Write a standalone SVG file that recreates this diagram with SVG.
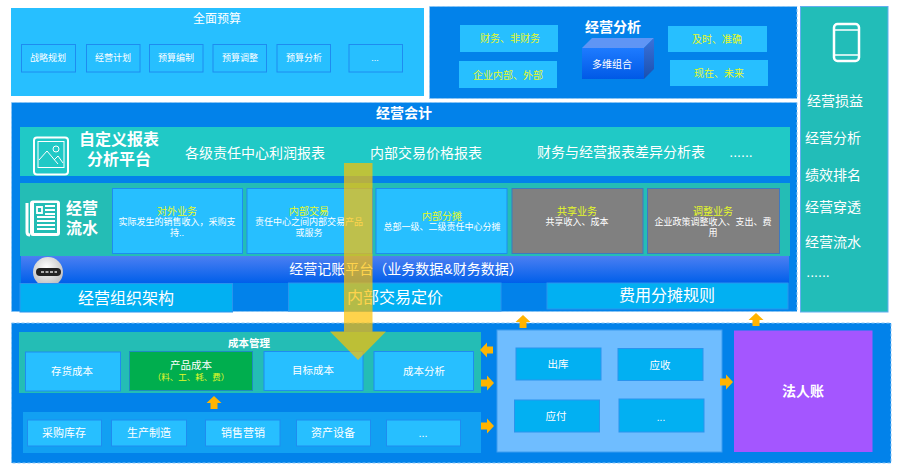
<svg xmlns="http://www.w3.org/2000/svg" width="900" height="467" viewBox="0 0 900 467">
<defs>
<linearGradient id="bar" x1="0" y1="0" x2="0" y2="1"><stop offset="0" stop-color="#4C7FF2"/><stop offset="1" stop-color="#005FEA"/></linearGradient>
<linearGradient id="front" x1="0" y1="0" x2="0" y2="1"><stop offset="0" stop-color="#1E7BFF"/><stop offset="1" stop-color="#0059E6"/></linearGradient>
<linearGradient id="sideF" x1="0" y1="0" x2="0" y2="1"><stop offset="0" stop-color="#3A72DA"/><stop offset="1" stop-color="#1A50B0"/></linearGradient>
<radialGradient id="ball" cx=".45" cy=".35" r=".7"><stop offset="0" stop-color="#FFFFFF"/><stop offset="1" stop-color="#B8B8B8"/></radialGradient>
<path id="ar" d="M-6 -3.500H0V-7.500L7 0L0 7.500V3.500H-6Z" fill="#FFB400"/>
</defs>
<style>
text{font-family:"Liberation Sans","Noto Sans CJK SC",sans-serif;text-anchor:middle;fill:#fff}
.panel{fill:#0282EA;stroke:#8CC6F5;stroke-width:1;stroke-dasharray:3 2}
.sky{fill:#27BFFF;stroke:#1E8CF0;stroke-width:1}
.cy{fill:#02B0F2;stroke:#2A94EE;stroke-width:1}
.gray{fill:#808080;stroke:#3F78C0;stroke-width:1}
.y{fill:#E6FA28}
.s10{font-size:10px}.s105{font-size:10.500px}.s9{font-size:9px}.s11{font-size:11px}.s14{font-size:14px}.s16{font-size:16px}
.b{font-weight:700}
.ic{fill:none;stroke:#fff;stroke-width:2}
</style>

<g id="budget">
<rect x="11" y="8" width="413" height="88" fill="#27BFFF"/>
<text x="217" y="23" font-size="12">全面预算</text>
<rect class="sky" x="21.500" y="44.500" width="54" height="27.500"/><text class="s9" x="48" y="61">战略规划</text>
<rect class="sky" x="86.500" y="44.500" width="53.500" height="27.500"/><text class="s9" x="113" y="61">经营计划</text>
<rect class="sky" x="149.500" y="44.500" width="53.500" height="27.500"/><text class="s9" x="176" y="61">预算编制</text>
<rect class="sky" x="213" y="44.500" width="53.500" height="27.500"/><text class="s9" x="240" y="61">预算调整</text>
<rect class="sky" x="277" y="44.500" width="53.500" height="27.500"/><text class="s9" x="304" y="61">预算分析</text>
<rect class="sky" x="349" y="44.500" width="53.500" height="27.500"/><text class="s9" x="375" y="61">...</text>
</g>

<g id="analysis">
<rect class="panel" x="429.500" y="6.500" width="367.500" height="92"/>
<rect x="460" y="25" width="98" height="27" fill="#27BFFF"/><text class="s10 y" x="510" y="42">财务、非财务</text>
<rect x="459" y="61" width="98" height="27" fill="#27BFFF"/><text class="s10 y" x="508" y="79">企业内部、外部</text>
<rect x="668" y="26" width="99" height="26" fill="#27BFFF"/><text class="s10 y" x="717" y="43">及时、准确</text>
<rect x="670" y="60" width="98" height="26" fill="#27BFFF"/><text class="s10 y" x="719" y="77">现在、未来</text>
<text class="s14 b" x="613" y="32">经营分析</text>
<path d="M582 48L592 38H654L644 48Z" fill="#5F95F5"/>
<path d="M644 48L654 38V69L644 79Z" fill="url(#sideF)"/>
<rect x="582" y="48" width="62" height="31" fill="url(#front)"/>
<text class="s10" x="612" y="68">多维组合</text>
</g>

<g id="side">
<rect x="800.500" y="6.500" width="87.500" height="305.500" fill="#22BDB8" stroke="#62AEF0"/>
<rect x="834" y="24" width="25" height="37" rx="3.500" fill="none" stroke="#fff" stroke-width="2.500"/>
<path d="M835 30H858M835 55H858" stroke="#fff" stroke-width="1.500"/>
<text class="s14" x="835" y="106">经营损益</text>
<text class="s14" x="833" y="143">经营分析</text>
<text class="s14" x="833" y="180">绩效排名</text>
<text class="s14" x="833" y="212">经营穿透</text>
<text class="s14" x="833" y="247">经营流水</text>
<text class="s14" x="818" y="277">......</text>
</g>

<g id="accounting">
<rect class="panel" x="11.500" y="102.500" width="785.500" height="209"/>
<text class="s14 b" x="404" y="118">经营会计</text>
<rect x="20" y="127" width="770" height="49" fill="#20C9C6"/>
<rect x="34" y="137.500" width="34" height="37" rx="3" class="ic"/>
<rect x="38" y="141.500" width="26" height="26" fill="none" stroke="#fff"/>
<circle cx="56" cy="149" r="3" fill="none" stroke="#fff"/>
<path d="M39 160L47 151L58 164M54 160L58 156L63 163" fill="none" stroke="#fff"/>
<text class="s16 b" x="119" y="145">自定义报表</text>
<text class="s16 b" x="119" y="165">分析平台</text>
<text class="s14" x="255" y="158">各级责任中心利润报表</text>
<text class="s14" x="426" y="158">内部交易价格报表</text>
<text class="s14" x="621" y="157">财务与经营报表差异分析表</text>
<text class="s14" x="741" y="157">......</text>
</g>

<g id="flow">
<rect x="20" y="183" width="770" height="73" fill="#24BDB5"/>
<rect x="30" y="200.500" width="30" height="35.500" rx="3" fill="#fff"/>
<rect x="34" y="203" width="23" height="30" fill="#24BDB5"/>
<path d="M27 203V232Q27 235 30 235" fill="none" stroke="#fff" stroke-width="3"/>
<path d="M37 207H42V213H37ZM37 217H55M37 221H55M37 225H55M37 229H55M45 206H55M45 210H55M45 214H55" fill="none" stroke="#fff" stroke-width="1.800"/>
<text class="s16 b" x="82" y="214">经营</text>
<text class="s16 b" x="82" y="234">流水</text>
<rect class="sky" x="112.500" y="188.500" width="130" height="65"/>
<text class="s10 y" x="177" y="215">对外业务</text>
<text class="s9" x="177" y="225">实际发生的销售收入，采购支</text><text class="s9" x="177" y="236">持..</text>
<rect class="sky" x="247" y="188.500" width="125.500" height="65"/>
<text class="s10 y" x="309" y="215">内部交易</text>
<text class="s9" x="309" y="225">责任中心之间内部交易产品</text><text class="s9" x="309" y="236">或服务</text>
<rect class="sky" x="376" y="188.500" width="131" height="65"/>
<text class="s10 y" x="442" y="220">内部分摊</text>
<text class="s9" x="442" y="230">总部一级、二级责任中心分摊</text>
<rect class="gray" x="512" y="188.500" width="131" height="65"/>
<text class="s10 y" x="577" y="215">共享业务</text>
<text class="s9" x="577" y="225">共享收入、成本</text>
<rect class="gray" x="647.500" y="188.500" width="132" height="65"/>
<text class="s10 y" x="713" y="215">调整业务</text>
<text class="s9" x="713" y="225">企业政策调整收入、支出、费</text><text class="s9" x="713" y="236">用</text>
</g>

<g id="platform">
<rect x="21" y="256" width="768" height="27" fill="url(#bar)"/>
<circle cx="48" cy="272" r="15" fill="url(#ball)"/>
<rect x="36" y="268" width="25" height="8" rx="4" fill="#222"/>
<path d="M41 272H44M45.500 272H48.500M50 272H53M54.500 272H57" stroke="#ddd" stroke-width="1.500"/>
<text class="s14" x="406" y="274">经营记账平台（业务数据&amp;财务数据）</text>
</g>

<g id="rules">
<rect class="cy" x="20" y="283.500" width="212.500" height="28.500"/><text class="s16" x="126" y="304">经营组织架构</text>
<rect class="cy" x="288.500" y="283" width="212.500" height="28"/><text class="s16" x="395" y="303">内部交易定价</text>
<rect class="cy" x="547" y="283" width="241" height="26"/><text class="s16" x="667" y="301">费用分摊规则</text>
</g>

<g id="cost">
<rect class="panel" x="11.500" y="323" width="879.500" height="140"/>
<rect x="19" y="332" width="462" height="61" fill="#24BDB5"/>
<text class="b s105" x="249" y="347">成本管理</text>
<rect class="sky" x="25.500" y="352" width="95" height="39"/><text class="s105" x="72" y="375">存货成本</text>
<rect x="129.500" y="351.500" width="123" height="39" fill="#00AE4E" stroke="#1E8CC0"/>
<text class="s105" x="191" y="369">产品成本</text><text class="y" font-size="8.500" x="191" y="380">（料、工、耗、费）</text>
<rect class="sky" x="264" y="351.500" width="99" height="39"/><text class="s105" x="313" y="374">目标成本</text>
<rect class="sky" x="374" y="351.500" width="99.500" height="39"/><text class="s105" x="424" y="375">成本分析</text>
</g>

<g id="ops">
<rect x="23" y="412" width="458" height="41" fill="#12A0F2"/>
<rect class="sky" x="27.500" y="420" width="74" height="26"/><text class="s11" x="64" y="437">采购库存</text>
<rect class="sky" x="111.500" y="420" width="75" height="26"/><text class="s11" x="149" y="437">生产制造</text>
<rect class="sky" x="205.500" y="420" width="74.500" height="26"/><text class="s11" x="243" y="437">销售营销</text>
<rect class="sky" x="296.500" y="420" width="74" height="26"/><text class="s11" x="333" y="437">资产设备</text>
<rect class="sky" x="386.500" y="420" width="74" height="26"/><text class="s11" x="423" y="437">...</text>
</g>

<g id="ledger">
<rect x="497" y="330" width="225" height="122" fill="#6FBDFF" stroke="#3D9CF0"/>
<rect class="cy" x="516" y="348" width="85" height="32"/><text class="s105" x="558" y="368">出库</text>
<rect class="cy" x="618" y="348.500" width="85" height="32"/><text class="s105" x="660" y="369">应收</text>
<rect class="cy" x="514.500" y="400" width="85" height="32"/><text class="s105" x="556" y="420">应付</text>
<rect class="cy" x="619" y="399" width="85" height="33"/><text class="s10" x="661" y="421">...</text>
</g>

<g id="legal">
<rect x="734" y="330.500" width="138.500" height="121.500" fill="#A456FF"/>
<text class="b s14" x="803" y="396">法人账</text>
</g>

<g id="connectors">
<use href="#ar" transform="translate(487 350) scale(-1 1)"/>
<use href="#ar" transform="translate(487 383)"/>
<use href="#ar" transform="translate(487 426)"/>
<use href="#ar" transform="translate(726 382)"/>
<use href="#ar" transform="translate(523 322) rotate(-90)"/>
<use href="#ar" transform="translate(756 320) rotate(-90)"/>
<use href="#ar" transform="translate(214 403) rotate(-90)"/>
<path d="M344 163H372.500V331.500H386L358 360L330 331.500H344Z" fill="#FFC000" fill-opacity=".7"/>
</g>
</svg>
